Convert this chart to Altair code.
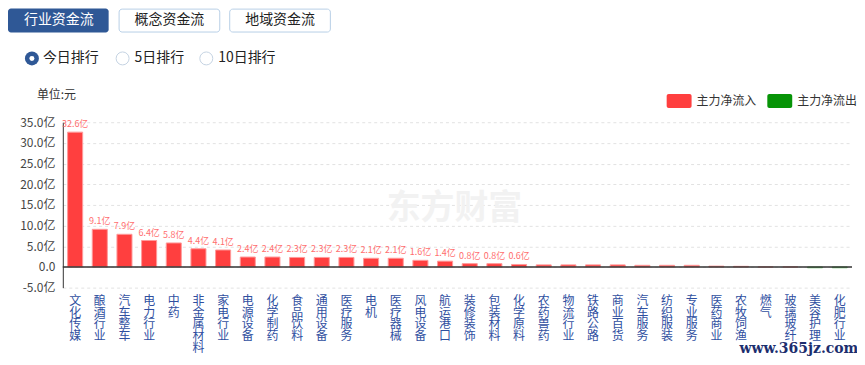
import altair as alt
import pandas as pd

categories = ["文化传媒", "酿酒行业", "汽车整车", "电力行业", "中药", "非金属材料", "家电行业",
              "电源设备", "化学制药", "食品饮料", "通用设备", "医疗服务", "电机", "医疗器械",
              "风电设备", "航运港口", "装修装饰", "包装材料", "化学原料", "农药兽药", "物流行业",
              "铁路公路", "商业百货", "汽车服务", "纺织服装", "专业服务", "医药商业", "农牧饲渔",
              "燃气", "玻璃玻纤", "美容护理", "化肥行业"]
values = [32.6, 9.1, 7.9, 6.4, 5.8, 4.4, 4.1, 2.4, 2.4, 2.3, 2.3, 2.3, 2.1, 2.1, 1.6, 1.4,
          0.8, 0.8, 0.6, 0.5, 0.5, 0.5, 0.5, 0.4, 0.4, 0.4, 0.2, 0.15, 0.0, 0.0, -0.2, -0.2]
legend_names = ["主力净流入", "主力净流出"]
legend_colors = ["#ff3f3f", "#079407"]
stroke_colors = ["#ff9a9a", "#6cc46c"]
y_ticks = [-5, 0, 5, 10, 15, 20, 25, 30, 35]
tabs = ["行业资金流", "概念资金流", "地域资金流"]
radios = ["今日排行", "5日排行", "10日排行"]
unit_text = "单位:元"
watermark = "东方财富"
site_mark = "www.365jz.com"

df = pd.DataFrame({"cat": categories, "v": values})
df["dir"] = [legend_names[0] if v >= 0 else legend_names[1] for v in values]
df["lab"] = [f"{v:.1f}亿" for v in values]

FONT = "Noto Sans CJK SC"
W, H = 792, 166
one = pd.DataFrame({"a": [0]})

x_enc = alt.X("cat:N", sort=categories,
              scale=alt.Scale(paddingInner=0.39, paddingOuter=0.195),
              axis=alt.Axis(title=None, labelAngle=0, labelExpr="split(datum.label, '')",
                            labelLineHeight=11.7, labelFontSize=12, labelColor="#2f4f9f",
                            labelBaseline="top", labelAlign="center", labelPadding=8,
                            labelOverlap=False, domain=False, ticks=False, grid=False,
                            labelFont=FONT))
y_enc = alt.Y("v:Q", scale=alt.Scale(domain=[-5, 35], nice=False),
              axis=alt.Axis(title=None, values=y_ticks,
                            labelExpr="datum.value == 0 ? '0.0' : datum.value + '.0亿'",
                            labelFontSize=12, labelColor="#444", labelFont=FONT,
                            labelOverlap=False, labelFlush=False, labelBound=False,
                            labelPadding=8, ticks=False, domain=True, domainColor="#333",
                            domainWidth=1, grid=True, gridDash=[3, 3], gridColor="#e2e2e2"))

rr = "M-0.84,-0.56H0.84A0.16,0.16 0 0 1 1,-0.4V0.4A0.16,0.16 0 0 1 0.84,0.56H-0.84A0.16,0.16 0 0 1 -1,0.4V-0.4A0.16,0.16 0 0 1 -0.84,-0.56Z"

base = alt.Chart(df)
bars = base.mark_bar(strokeWidth=1).encode(
    x=x_enc, y=y_enc,
    color=alt.Color("dir:N", scale=alt.Scale(domain=legend_names, range=legend_colors),
                    legend=alt.Legend(title=None, orient="none", legendX=606, legendY=-34,
                                      direction="horizontal", columns=2, symbolType=rr,
                                      symbolSize=625, symbolStrokeWidth=0, symbolOpacity=1,
                                      labelFontSize=12, labelColor="#333", labelFont=FONT,
                                      labelOffset=5, columnPadding=10, padding=0)),
    stroke=alt.Stroke("dir:N", scale=alt.Scale(domain=legend_names, range=stroke_colors),
                      legend=None),
)
labels = base.transform_filter("datum.v >= 0.6").mark_text(
    fontSize=9, color="#ff6e6e", baseline="bottom", dy=-3, font=FONT
).encode(x=x_enc, y=y_enc, text="lab:N")

zero = alt.Chart(pd.DataFrame({"v": [0]})).mark_rule(color="#333", strokeWidth=1.5).encode(y=y_enc)

wm = alt.Chart(one).mark_text(text=watermark, fontSize=34, fontWeight="bold", color="#f2f2f2",
                              font=FONT, align="center", baseline="middle").encode(
    x=alt.value(393), y=alt.value(87))


def rect(x1, x2, y1, y2, **kw):
    return alt.Chart(one).mark_rect(**kw).encode(
        x=alt.value(x1), x2=alt.value(x2), y=alt.value(y1), y2=alt.value(y2))


def txt(t, xx, yy, **kw):
    return alt.Chart(one).mark_text(text=t, font=FONT, baseline="middle", **kw).encode(
        x=alt.value(xx), y=alt.value(yy))


def dot(xx, yy, **kw):
    return alt.Chart(one).mark_point(shape="circle", filled=True, **kw).encode(
        x=alt.value(xx), y=alt.value(yy))


header = [
    rect(-55, 46, -114, -90, fill="#2f5896", cornerRadius=3),
    rect(56.5, 157.5, -113.5, -90.5, fill="white", stroke="#b8cfe6", strokeWidth=1, cornerRadius=3),
    rect(167.5, 268.5, -113.5, -90.5, fill="white", stroke="#b8cfe6", strokeWidth=1, cornerRadius=3),
    txt(tabs[0], -4, -103, fontSize=14, color="white", align="center"),
    txt(tabs[1], 107, -103, fontSize=14, color="#222", align="center"),
    txt(tabs[2], 218, -103, fontSize=14, color="#222", align="center"),
    dot(-31, -64, size=196, color="#2f5896", opacity=1),
    dot(-31, -64, size=25, color="white", opacity=1),
    dot(60, -64, size=169, fill="white", stroke="#c5d3e2", strokeWidth=1, opacity=1),
    dot(144, -64, size=169, fill="white", stroke="#c5d3e2", strokeWidth=1, opacity=1),
    txt(radios[0], -20, -64, fontSize=14, color="#222", align="left"),
    txt(radios[1], 72, -64, fontSize=14, color="#222", align="left"),
    txt(radios[2], 156, -64, fontSize=14, color="#222", align="left"),
    txt(unit_text, -26, -27, fontSize=12, color="#333", align="left"),
]

site = alt.Chart(one).mark_text(text=site_mark, font="DejaVu Serif", fontWeight="bold",
                                fontSize=14, color="#1c2e6e", align="left",
                                baseline="middle").encode(x=alt.value(679), y=alt.value(228))

chart = alt.layer(wm, bars, labels, zero, *header, site).properties(
    width=W, height=H,
    padding={"left": 55, "top": 114, "right": 5, "bottom": 70},
    autosize=alt.AutoSizeParams(type="none"),
).configure_view(strokeWidth=0)

chart.save("out.html", embed_options={"renderer": "svg", "actions": False})
